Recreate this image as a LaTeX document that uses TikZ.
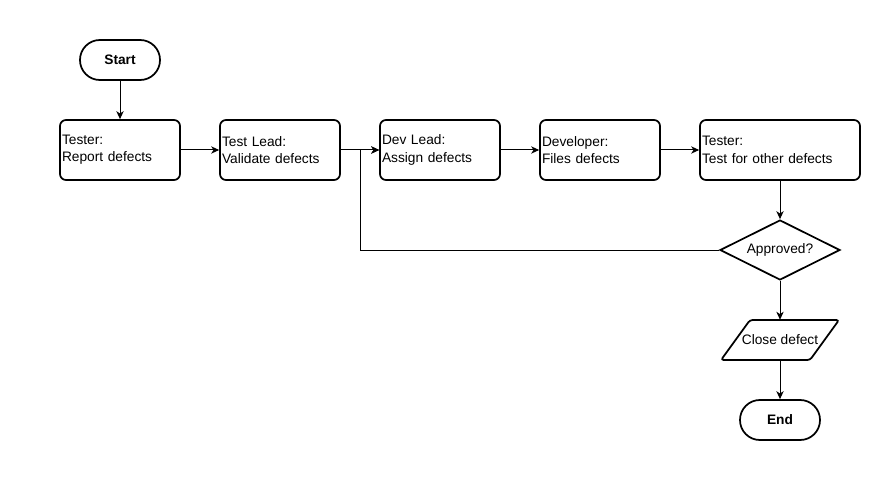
\documentclass[tikz,border=0pt]{standalone}
\usepackage{fontspec}
\setmainfont{Liberation Sans}
\usetikzlibrary{shapes.geometric,arrows.meta}
\begin{document}
\begin{tikzpicture}[x=0.75pt,y=-0.75pt,
  every node/.style={font=\fontsize{10.3pt}{13pt}\selectfont},
  shp/.style={draw=black,line width=1.3pt},
  procbox/.style={shp,rectangle,rounded corners=4.5pt,minimum width=90pt,minimum height=45pt,text width=87pt,inner xsep=1.5pt,align=left},
  termbox/.style={shp,rectangle,rounded corners=14.9pt,minimum width=60pt,minimum height=30pt,font=\fontsize{10.3pt}{13pt}\selectfont\bfseries},
  decbox/.style={shp,diamond,minimum width=90pt,minimum height=45pt,aspect=2,inner sep=0pt},
  edge/.style={draw=black,line width=0.75pt,-{Stealth[length=6pt,width=5.5pt,inset=1.8pt]}}
]
\useasboundingbox (0,0) rectangle (881,481);
\node[termbox] (start) at (120,60) {Start};
\node[procbox] (b1) at (120,150) {Tester:\\Report defects};
\node[procbox] (b2) at (280,150) {Test Lead:\\Validate defects};
\node[procbox] (b3) at (440,150) {Dev Lead:\\Assign defects};
\node[procbox] (b4) at (600,150) {Developer:\\Files defects};
\node[procbox,minimum width=120pt,text width=117pt] (b5) at (780,150) {Tester:\\Test for other defects};
\node[decbox] (appr) at (780,250) {Approved?};
\node[minimum width=90pt,minimum height=30pt,inner sep=0pt] (close) at (780,340) {Close defect};
\draw[shp,rounded corners=2pt] (721,360) -- (750,320) -- (839,320) -- (810,360) -- cycle;
\node[termbox] (end) at (780,420) {End};
\coordinate (loop) at (360,250);
\draw[edge] (start) -- (b1);
\draw[edge] (b1) -- (b2);
\draw[edge] (b2) -- (b3);
\draw[edge] (b3) -- (b4);
\draw[edge] (b4) -- (b5);
\draw[edge] (b5) -- (appr);
\draw[edge] (appr) -- (close);
\draw[edge] (close) -- (end);
\draw[edge] (appr.west) -- (loop) |- (b3.west);
\end{tikzpicture}
\end{document}
